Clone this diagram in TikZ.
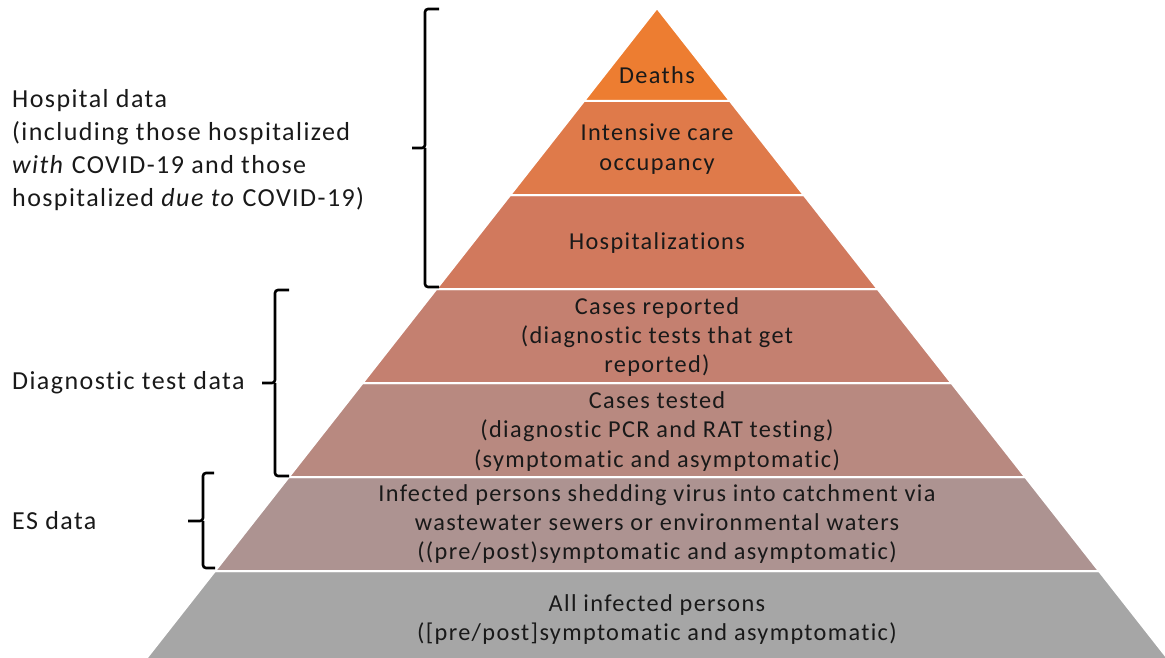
\documentclass[tikz,border=0pt]{standalone}
\usepackage{fontspec}
\setmainfont{Carlito}[LetterSpace=5.5,RawFeature=-liga]
\begin{document}
\begin{tikzpicture}[x=1pt,y=-1pt,
  layer/.style={draw=white,line width=2pt,line join=miter},
  ptext/.style={align=center,inner sep=0pt,font=\fontsize{24.3}{29.2}\selectfont,text=black!90},
  ltext/.style={align=left,anchor=west,inner sep=0pt,font=\fontsize{26}{33}\selectfont,text=black!90},
  bracket/.style={draw=black,line width=2.6pt,rounded corners=3pt}]
\definecolor{c1}{HTML}{ED7D31}
\definecolor{c2}{HTML}{DF7A4A}
\definecolor{c3}{HTML}{D1795D}
\definecolor{c4}{HTML}{C48070}
\definecolor{c5}{HTML}{B88980}
\definecolor{c6}{HTML}{AD9391}
\definecolor{c7}{HTML}{A6A6A6}
\useasboundingbox (0,0) rectangle (1165,658);
\begin{scope}
\clip (0,0) rectangle (1165,658);
\fill[c7,layer] (215,571) -- (1099,571) -- (1168.9,660) -- (145.1,660) -- cycle;
\fill[c6,layer] (288.8,477) -- (1025.2,477) -- (1099,571) -- (215,571) -- cycle;
\fill[c5,layer] (362.6,383) -- (951.4,383) -- (1025.2,477) -- (288.8,477) -- cycle;
\fill[c4,layer] (436.4,289) -- (877.6,289) -- (951.4,383) -- (362.6,383) -- cycle;
\fill[c3,layer] (510.2,195) -- (803.8,195) -- (877.6,289) -- (436.4,289) -- cycle;
\fill[c2,layer] (584,101) -- (730,101) -- (803.8,195) -- (510.2,195) -- cycle;
\fill[c1,layer] (657,8) -- (730,101) -- (584,101) -- cycle;
\end{scope}
% pyramid texts
\node[ptext] (deaths) at (657,75.5) {Deaths};
\node[ptext] (icu) at (657,149) {Intensive care\\occupancy};
\node[ptext] (hosp) at (657,243) {Hospitalizations};
\node[ptext] (rep) at (657,337) {Cases reported\\(diagnostic tests that get\\reported)};
\node[ptext] (test) at (657,431.5) {Cases tested\\(diagnostic PCR and RAT testing)\\(symptomatic and asymptomatic)};
\node[ptext] (shed) at (657,524) {Infected persons shedding virus into catchment via\\wastewater sewers or environmental waters\\((pre/post)symptomatic and asymptomatic)};
\node[ptext] (all) at (657,619.5) {All infected persons\\([pre/post]symptomatic and asymptomatic)};
% brackets
\coordinate (h1) at (439,9); \coordinate (h2) at (425,9); \coordinate (hm) at (425,148);
\coordinate (h3) at (425,287); \coordinate (h4) at (439,287); \coordinate (ht) at (412,148);
\draw[bracket] (h1) -- (h2) -- (hm) -- (ht);
\draw[bracket] (hm) -- (h3) -- (h4);
\coordinate (d1) at (289,290); \coordinate (d2) at (275,290); \coordinate (dm) at (275,383);
\coordinate (d3) at (275,476); \coordinate (d4) at (289,476); \coordinate (dt) at (262,383);
\draw[bracket] (d1) -- (d2) -- (dm) -- (dt);
\draw[bracket] (dm) -- (d3) -- (d4);
\coordinate (e1) at (214,473); \coordinate (e2) at (203,473); \coordinate (em) at (203,521);
\coordinate (e3) at (203,568); \coordinate (e4) at (215,568); \coordinate (et) at (188,521);
\draw[bracket] (e1) -- (e2) -- (em) -- (et);
\draw[bracket] (em) -- (e3) -- (e4);
% left labels
\node[ltext] (hlab) at (12,150) {Hospital data\\(including those hospitalized\\\textit{with} COVID-19 and those\\hospitalized \textit{due to} COVID-19)};
\node[ltext] (dlab) at (12,383) {Diagnostic test data};
\node[ltext] (elab) at (12,521) {ES data};
\end{tikzpicture}
\end{document}
